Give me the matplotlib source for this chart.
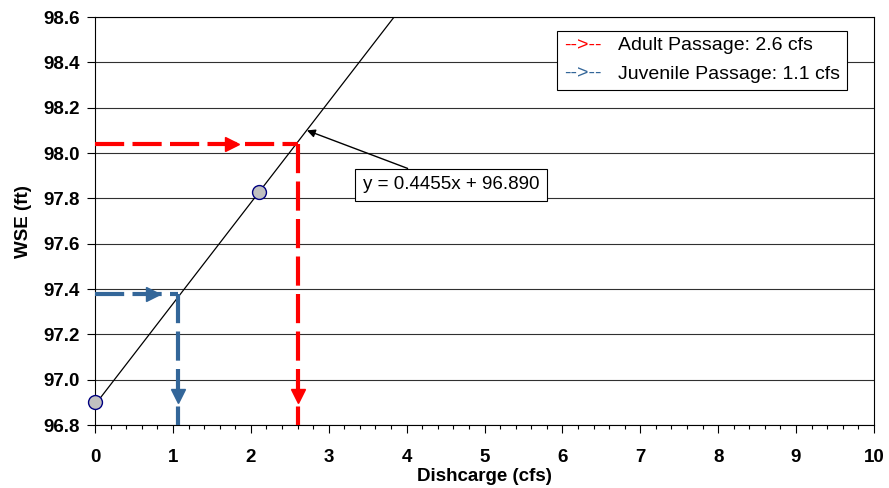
import numpy as np
import matplotlib
matplotlib.use('Agg')
import matplotlib.pyplot as plt
from matplotlib.offsetbox import TextArea, HPacker, VPacker, AnchoredOffsetbox

plt.rcParams['font.family'] = ['Liberation Sans', 'DejaVu Sans']

# Data
obs_q = [0.0, 2.1]
obs_wse = [96.90, 97.83]
slope = 0.4455
intercept = 96.890
adult_q = 2.6
adult_wse = 98.04
juv_q = 1.06
juv_wse = 97.38
legend_labels = ['Adult Passage: 2.6 cfs', 'Juvenile Passage: 1.1 cfs']
red = '#FF0000'
blue = '#336699'

fig = plt.figure(figsize=(8.89, 4.88), dpi=100)
ax = fig.add_axes([0.107, 0.129, 0.876, 0.836])

# Regression line
xl = np.array([0, 10])
ax.plot(xl, slope * xl + intercept, color='black', lw=0.9, zorder=3)

# Passage lines
ax.plot([0, adult_q], [adult_wse, adult_wse], color=red, lw=3, dashes=(7, 2), zorder=4)
ax.plot([adult_q, adult_q], [adult_wse, 96.8], color=red, lw=3, dashes=(7, 2), zorder=4)
ax.plot([1.76], [adult_wse], marker='>', ms=10, color=red, zorder=5)
ax.plot([adult_q], [96.93], marker='v', ms=10, color=red, zorder=5)

ax.plot([0, juv_q], [juv_wse, juv_wse], color=blue, lw=3, dashes=(7, 2), zorder=4)
ax.plot([juv_q, juv_q], [juv_wse, 96.8], color=blue, lw=3, dashes=(7, 2), zorder=4)
ax.plot([0.74], [juv_wse], marker='>', ms=10, color=blue, zorder=5)
ax.plot([juv_q], [96.93], marker='v', ms=10, color=blue, zorder=5)

# Observed points
ax.plot(obs_q, obs_wse, 'o', ms=10, mfc='#C0C0C0', mec='#000080', mew=1, zorder=6,
        clip_on=False)

# Equation annotation
ax.annotate('y = 0.4455x + 96.890', xy=(2.72, 98.1), xytext=(4.57, 97.86),
            ha='center', va='center', fontsize=13.5,
            bbox=dict(boxstyle='square,pad=0.4', fc='white', ec='black', lw=0.8),
            arrowprops=dict(arrowstyle='-|>', color='black', lw=1, mutation_scale=12,
                            shrinkA=0, shrinkB=0),
            zorder=7)

# Legend
rows = []
for lab, col in zip(legend_labels, [red, blue]):
    rows.append(HPacker(children=[TextArea('-->--', textprops=dict(color=col, fontsize=14)),
                                  TextArea(lab, textprops=dict(color='black', fontsize=14))],
                        align='baseline', pad=0, sep=12))
box = VPacker(children=rows, align='left', pad=0, sep=8)
anch = AnchoredOffsetbox(loc='upper right', child=box, pad=0.5, frameon=True,
                         bbox_to_anchor=(0.966, 0.967), bbox_transform=ax.transAxes,
                         borderpad=0)
anch.patch.set_edgecolor('black')
anch.patch.set_linewidth(0.8)
ax.add_artist(anch)

# Axes formatting
ax.set_xlim(0, 10)
ax.set_ylim(96.8, 98.6)
ax.set_xticks(np.arange(0, 11, 1))
ax.set_xticks(np.arange(0, 10.01, 0.2), minor=True)
ax.set_yticks(np.arange(96.8, 98.61, 0.2))
ax.set_yticklabels([f'{v:.1f}' for v in np.arange(96.8, 98.61, 0.2)])
ax.set_xticklabels([str(i) for i in range(11)])
ax.tick_params(axis='both', which='major', labelsize=13.5, direction='out', length=6, width=0.8)
ax.tick_params(axis='x', which='major', pad=11)
ax.tick_params(axis='y', which='major', pad=5)
ax.tick_params(axis='x', which='minor', direction='out', length=3, width=0.8)
for lab in ax.get_xticklabels() + ax.get_yticklabels():
    lab.set_fontweight('bold')
ax.grid(True, axis='y', color='#303030', lw=0.8)
ax.set_axisbelow(True)
for sp in ax.spines.values():
    sp.set_linewidth(0.8)
ax.set_xlabel('Dishcarge (cfs)', fontsize=13.5, fontweight='bold', labelpad=2)
ax.set_ylabel('WSE (ft)', fontsize=13.5, fontweight='bold', labelpad=8)

fig.savefig('out.png', dpi=100)
